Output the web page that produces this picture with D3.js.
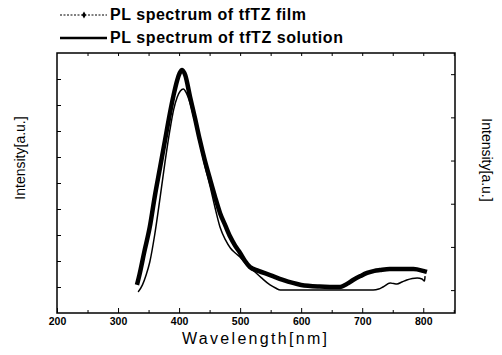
<!DOCTYPE html>
<html>
<head>
<meta charset="utf-8">
<script src="https://cdn.jsdelivr.net/npm/d3@7"></script>
<style>
body { margin: 0; background: #fff; }
text { font-family: "Liberation Sans", Arial, sans-serif; fill: #000; }
</style>
</head>
<body>
<div id="chart"></div>
<script>
// wavelength (nm) and intensity (a.u., left scale 0-10)
var solution_wl = [331, 335, 343, 352, 360, 369, 377, 385, 391, 397, 401, 405, 410, 418, 426, 434, 442, 451, 459, 467, 476, 484, 492, 500, 508, 516, 530, 549, 570, 600, 630, 664, 675, 685, 697, 708, 720, 729, 745, 762, 784, 800, 806];
var solution_int = [1.08, 1.46, 2.35, 3.31, 4.46, 5.62, 6.65, 7.69, 8.38, 8.96, 9.23, 9.35, 9.15, 8.31, 7.5, 6.65, 5.88, 5.12, 4.46, 3.85, 3.35, 2.92, 2.58, 2.31, 2.0, 1.77, 1.62, 1.46, 1.27, 1.08, 1.02, 1.0, 1.12, 1.27, 1.42, 1.54, 1.62, 1.65, 1.69, 1.69, 1.69, 1.62, 1.58];

var film_wl = [333, 340, 346, 352, 360, 369, 377, 385, 391, 397, 402, 407, 412, 418, 426, 434, 442, 451, 459, 467, 476, 484, 492, 500, 510, 521, 535, 549, 558, 566, 600, 650, 700, 718, 727, 734, 746, 752, 757, 765, 773, 782, 790, 798, 802, 803];
var film_int = [0.81, 1.08, 1.46, 1.96, 3.0, 4.46, 5.81, 7.04, 7.81, 8.31, 8.54, 8.62, 8.46, 8.08, 7.35, 6.54, 5.69, 4.85, 4.04, 3.31, 2.81, 2.5, 2.31, 2.15, 1.88, 1.65, 1.35, 1.08, 0.96, 0.88, 0.88, 0.88, 0.88, 0.88, 0.92, 1.0, 1.15, 1.13, 1.12, 1.19, 1.27, 1.33, 1.35, 1.31, 1.23, 1.42];

var x_ticks = [200, 300, 400, 500, 600, 700, 800];
var legend_labels = ['PL spectrum of tfTZ film', 'PL spectrum of tfTZ solution'];

var chart_width = 502;
var chart_height = 355;
var plot_left = 57, plot_right = 455, plot_top = 53, plot_bottom = 313;

var svg = d3.select('#chart')
    .append('svg')
    .attr('width', chart_width)
    .attr('height', chart_height);

var xScale = d3.scaleLinear().domain([200, 852]).range([plot_left, plot_right]);
var yScale = d3.scaleLinear().domain([0, 10]).range([plot_bottom, plot_top]);
var y2Scale = d3.scaleLinear().domain([-0.53, 5.49]).range([plot_bottom, plot_top]);

// bottom axis, ticks pointing inward
var xAxis = svg.append('g')
    .attr('transform', 'translate(0,' + plot_bottom + ')')
    .call(d3.axisBottom(xScale).tickValues(x_ticks).tickSize(-5).tickFormat(d3.format('d')));
xAxis.select('.domain').remove();
xAxis.selectAll('text').attr('y', 5).style('font-size', '10.5px').style('font-weight', 'bold');

svg.append('g')
    .attr('transform', 'translate(0,' + plot_bottom + ')')
    .call(d3.axisBottom(xScale).tickValues(d3.range(250, 851, 100)).tickSize(-3).tickFormat(''))
    .select('.domain').remove();

// top minor ticks
svg.append('g')
    .attr('transform', 'translate(0,' + plot_top + ')')
    .call(d3.axisTop(xScale).tickValues(d3.range(250, 851, 50)).tickSize(-3).tickFormat(''))
    .select('.domain').remove();

// left ticks
svg.append('g')
    .attr('transform', 'translate(' + plot_left + ',0)')
    .call(d3.axisLeft(yScale).tickValues(d3.range(1, 10)).tickSize(-4).tickFormat(''))
    .select('.domain').remove();

// right ticks
svg.append('g')
    .attr('transform', 'translate(' + plot_right + ',0)')
    .call(d3.axisRight(y2Scale).tickValues(d3.range(0, 6)).tickSize(-4).tickFormat(''))
    .select('.domain').remove();

// frame
svg.append('rect')
    .attr('x', plot_left).attr('y', plot_top)
    .attr('width', plot_right - plot_left).attr('height', plot_bottom - plot_top)
    .attr('fill', 'none').attr('stroke', '#000').attr('stroke-width', 1.5);

var line = d3.line()
    .x(function(d) { return xScale(d[0]); })
    .y(function(d) { return yScale(d[1]); })
    .curve(d3.curveMonotoneX);

var solution = d3.zip(solution_wl, solution_int);
var film = d3.zip(film_wl, film_int);

svg.append('path')
    .datum(solution)
    .attr('d', line)
    .attr('fill', 'none')
    .attr('stroke', '#000')
    .attr('stroke-width', 4.5)
    .attr('stroke-linejoin', 'round');

svg.append('path')
    .datum(film)
    .attr('d', line)
    .attr('fill', 'none')
    .attr('stroke', '#000')
    .attr('stroke-width', 1.5);

// legend
svg.append('line')
    .attr('x1', 60).attr('x2', 107).attr('y1', 15).attr('y2', 15)
    .attr('stroke', '#000').attr('stroke-width', 1).attr('stroke-dasharray', '2,1.5');
svg.append('path')
    .attr('d', d3.symbol().type(d3.symbolDiamond).size(14)())
    .attr('transform', 'translate(84,15)')
    .attr('fill', '#000');
svg.append('line')
    .attr('x1', 60).attr('x2', 107).attr('y1', 38).attr('y2', 38)
    .attr('stroke', '#000').attr('stroke-width', 2.5);

svg.selectAll('.legend-text')
    .data(legend_labels)
    .enter()
    .append('text')
    .attr('class', 'legend-text')
    .attr('x', 110)
    .attr('y', function(d, i) { return 20 + i * 23; })
    .attr('textLength', function(d, i) { return i === 0 ? 196 : 233; })
    .style('font-size', '16px')
    .style('font-weight', 'bold')
    .text(function(d) { return d; });

// axis titles
svg.append('text')
    .attr('x', 182).attr('y', 344)
    .attr('textLength', 145)
    .style('font-size', '16px')
    .text('Wavelength[nm]');

svg.append('text')
    .attr('transform', 'translate(25,158) rotate(-90)')
    .attr('text-anchor', 'middle')
    .style('font-size', '14px')
    .text('Intensity[a.u.]');

svg.append('text')
    .attr('transform', 'translate(482,160) rotate(90)')
    .attr('text-anchor', 'middle')
    .style('font-size', '14px')
    .text('Intensity[a.u.]');
</script>
</body>
</html>
